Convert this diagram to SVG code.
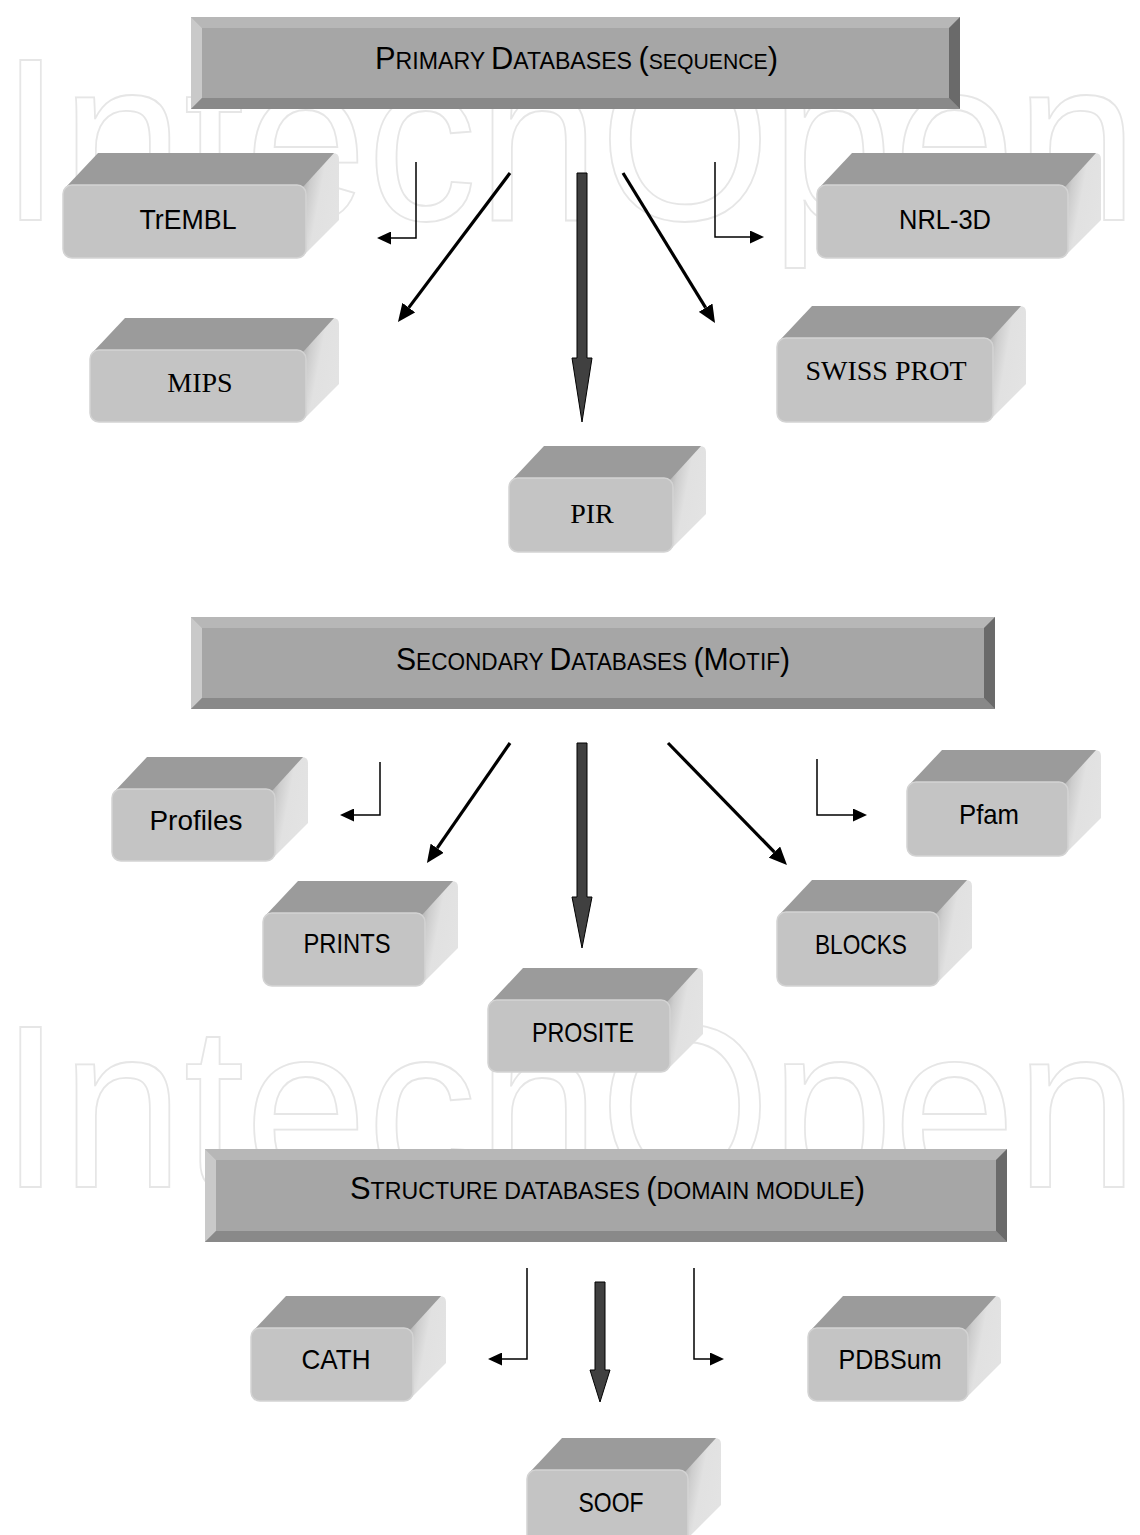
<svg xmlns="http://www.w3.org/2000/svg" width="1140" height="1535" viewBox="0 0 1140 1535">
<style>
.wm{font-family:"Liberation Sans",Arial,sans-serif;font-size:232px;fill:none;stroke:#e6e6e6;stroke-width:1.8}
.hface{fill:#a6a6a6}
.btop{fill:#b7b7b7}.bleft{fill:#c9c9c9}.bbot{fill:#898989}.bright{fill:#6a6a6a}
.htxt{font-family:"Liberation Sans",Arial,sans-serif;fill:#000}
.side{fill:url(#sideG)}
.topf{fill:#9b9b9b}
.front{fill:#c4c4c4;stroke:#d3d3d3;stroke-width:1.5}
.lbl{font-family:"Liberation Sans",Arial,sans-serif;font-size:28px;fill:#000;text-anchor:middle}
.lblt{font-family:"Liberation Serif","Times New Roman",serif;font-size:28px;fill:#000;text-anchor:middle}
.thin{fill:none;stroke:#000;stroke-width:1.5}
.diag{fill:none;stroke:#000;stroke-width:3.2}
.big{fill:#404040;stroke:#000;stroke-width:1}
</style>
<defs>
<linearGradient id="sideG" x1="0" y1="0" x2="1" y2="0.5">
<stop offset="0" stop-color="#9e9e9e"/>
<stop offset="0.3" stop-color="#cdcdcd"/>
<stop offset="0.55" stop-color="#e1e1e1"/>
<stop offset="1" stop-color="#e3e3e3"/>
</linearGradient>
<marker id="ah" viewBox="0 0 14 13" refX="0" refY="6.5" markerWidth="14" markerHeight="13" markerUnits="userSpaceOnUse" orient="auto"><path d="M0,0 L14,6.5 L0,13 Z" fill="#000"/></marker>
<marker id="ahb" viewBox="0 0 18 16" refX="0" refY="8" markerWidth="18" markerHeight="16" markerUnits="userSpaceOnUse" orient="auto"><path d="M0,0 L18,8 L0,16 Z" fill="#000"/></marker>
</defs>
<rect x="0" y="0" width="1140" height="1535" fill="#fff"/>
<g id="watermark">
<text class="wm" x="0" y="220" textLength="1138" lengthAdjust="spacingAndGlyphs">IntechOpen</text>
<text class="wm" x="0" y="1187" textLength="1138" lengthAdjust="spacingAndGlyphs">IntechOpen</text>
</g>

<g id="h-primary" transform="translate(191,17)">
<rect class="hface" x="0" y="0" width="769" height="92"/>
<polygon class="btop" points="0,0 769,0 758,11 11,11"/>
<polygon class="bleft" points="0,0 11,11 11,81 0,92"/>
<polygon class="bbot" points="0,92 11,81 758,81 769,92"/>
<polygon class="bright" points="769,0 769,92 758,81 758,11"/>
<text class="htxt" x="184" y="52" textLength="403" lengthAdjust="spacingAndGlyphs"><tspan font-size="32">P</tspan><tspan font-size="24">RIMARY </tspan><tspan font-size="32">D</tspan><tspan font-size="24">ATABASES </tspan><tspan font-size="32">(</tspan><tspan font-size="22">SEQUENCE</tspan><tspan font-size="32">)</tspan></text>
</g>

<g id="h-secondary" transform="translate(191,617)">
<rect class="hface" x="0" y="0" width="804" height="92"/>
<polygon class="btop" points="0,0 804,0 793,11 11,11"/>
<polygon class="bleft" points="0,0 11,11 11,81 0,92"/>
<polygon class="bbot" points="0,92 11,81 793,81 804,92"/>
<polygon class="bright" points="804,0 804,92 793,81 793,11"/>
<text class="htxt" x="205" y="53" textLength="394" lengthAdjust="spacingAndGlyphs"><tspan font-size="32">S</tspan><tspan font-size="24">ECONDARY </tspan><tspan font-size="32">D</tspan><tspan font-size="24">ATABASES </tspan><tspan font-size="32">(M</tspan><tspan font-size="24">OTIF</tspan><tspan font-size="32">)</tspan></text>
</g>

<g id="h-structure" transform="translate(205,1149)">
<rect class="hface" x="0" y="0" width="802" height="93"/>
<polygon class="btop" points="0,0 802,0 791,11 11,11"/>
<polygon class="bleft" points="0,0 11,11 11,82 0,93"/>
<polygon class="bbot" points="0,93 11,82 791,82 802,93"/>
<polygon class="bright" points="802,0 802,93 791,82 791,11"/>
<text class="htxt" x="145" y="50" textLength="515" lengthAdjust="spacingAndGlyphs"><tspan font-size="32">S</tspan><tspan font-size="24">TRUCTURE DATABASES </tspan><tspan font-size="32">(</tspan><tspan font-size="24">DOMAIN MODULE</tspan><tspan font-size="32">)</tspan></text>
</g>

<g id="n-trembl" transform="translate(63,185)">
<path class="side" d="M239,1 L270,-32 Q276,-32 276,-26 V35 L242,69 Z"/>
<path class="topf" d="M3,2 L35,-32 H271 L240,2 Z"/>
<rect class="front" x="0" y="0" width="243" height="73" rx="9"/>
<text class="lbl" x="125" y="44" textLength="97" lengthAdjust="spacingAndGlyphs">TrEMBL</text>
</g>
<g id="n-nrl3d" transform="translate(817,185)">
<path class="side" d="M247,1 L278,-32 Q284,-32 284,-26 V35 L250,69 Z"/>
<path class="topf" d="M3,2 L35,-32 H279 L248,2 Z"/>
<rect class="front" x="0" y="0" width="251" height="73" rx="9"/>
<text class="lbl" x="128" y="44" textLength="92" lengthAdjust="spacingAndGlyphs">NRL-3D</text>
</g>
<g id="n-mips" transform="translate(90,350)">
<path class="side" d="M212,1 L243,-32 Q249,-32 249,-26 V34 L215,68 Z"/>
<path class="topf" d="M3,2 L35,-32 H244 L213,2 Z"/>
<rect class="front" x="0" y="0" width="216" height="72" rx="9"/>
<text class="lblt" x="110" y="42">MIPS</text>
</g>
<g id="n-swissprot" transform="translate(777,338)">
<path class="side" d="M212,1 L243,-32 Q249,-32 249,-26 V46 L215,80 Z"/>
<path class="topf" d="M3,2 L35,-32 H244 L213,2 Z"/>
<rect class="front" x="0" y="0" width="216" height="84" rx="9"/>
<text class="lblt" x="109" y="42">SWISS PROT</text>
</g>
<g id="n-pir" transform="translate(509,478)">
<path class="side" d="M160,1 L191,-32 Q197,-32 197,-26 V36 L163,70 Z"/>
<path class="topf" d="M3,2 L35,-32 H192 L161,2 Z"/>
<rect class="front" x="0" y="0" width="164" height="74" rx="9"/>
<text class="lblt" x="83" y="45">PIR</text>
</g>

<g id="n-profiles" transform="translate(112,789)">
<path class="side" d="M159,1 L190,-32 Q196,-32 196,-26 V34 L162,68 Z"/>
<path class="topf" d="M3,2 L35,-32 H191 L160,2 Z"/>
<rect class="front" x="0" y="0" width="163" height="72" rx="9"/>
<text class="lbl" x="84" y="41" textLength="93" lengthAdjust="spacingAndGlyphs">Profiles</text>
</g>
<g id="n-prints" transform="translate(263,913)">
<path class="side" d="M158,1 L189,-32 Q195,-32 195,-26 V35 L161,69 Z"/>
<path class="topf" d="M3,2 L35,-32 H190 L159,2 Z"/>
<rect class="front" x="0" y="0" width="162" height="73" rx="9"/>
<text class="lbl" x="84" y="40" textLength="87" lengthAdjust="spacingAndGlyphs">PRINTS</text>
</g>
<g id="n-prosite" transform="translate(488,1000)">
<path class="side" d="M178,1 L209,-32 Q215,-32 215,-26 V34 L181,68 Z"/>
<path class="topf" d="M3,2 L35,-32 H210 L179,2 Z"/>
<rect class="front" x="0" y="0" width="182" height="72" rx="9"/>
<text class="lbl" x="95" y="42" textLength="102" lengthAdjust="spacingAndGlyphs">PROSITE</text>
</g>
<g id="n-pfam" transform="translate(907,782)">
<path class="side" d="M157,1 L188,-32 Q194,-32 194,-26 V36 L160,70 Z"/>
<path class="topf" d="M3,2 L35,-32 H189 L158,2 Z"/>
<rect class="front" x="0" y="0" width="161" height="74" rx="9"/>
<text class="lbl" x="82" y="42" textLength="60" lengthAdjust="spacingAndGlyphs">Pfam</text>
</g>
<g id="n-blocks" transform="translate(777,912)">
<path class="side" d="M158,1 L189,-32 Q195,-32 195,-26 V36 L161,70 Z"/>
<path class="topf" d="M3,2 L35,-32 H190 L159,2 Z"/>
<rect class="front" x="0" y="0" width="162" height="74" rx="9"/>
<text class="lbl" x="84" y="42" textLength="92" lengthAdjust="spacingAndGlyphs">BLOCKS</text>
</g>

<g id="n-cath" transform="translate(251,1328)">
<path class="side" d="M158,1 L189,-32 Q195,-32 195,-26 V35 L161,69 Z"/>
<path class="topf" d="M3,2 L35,-32 H190 L159,2 Z"/>
<rect class="front" x="0" y="0" width="162" height="73" rx="9"/>
<text class="lbl" x="85" y="41" textLength="69" lengthAdjust="spacingAndGlyphs">CATH</text>
</g>
<g id="n-pdbsum" transform="translate(808,1328)">
<path class="side" d="M156,1 L187,-32 Q193,-32 193,-26 V35 L159,69 Z"/>
<path class="topf" d="M3,2 L35,-32 H188 L157,2 Z"/>
<rect class="front" x="0" y="0" width="160" height="73" rx="9"/>
<text class="lbl" x="82" y="41" textLength="103" lengthAdjust="spacingAndGlyphs">PDBSum</text>
</g>
<g id="n-soof" transform="translate(527,1470)">
<path class="side" d="M157,1 L188,-32 Q194,-32 194,-26 V35 L160,69 Z"/>
<path class="topf" d="M3,2 L35,-32 H189 L158,2 Z"/>
<rect class="front" x="0" y="0" width="161" height="73" rx="9"/>
<text class="lbl" x="84" y="42" textLength="65" lengthAdjust="spacingAndGlyphs">SOOF</text>
</g>

<g id="connectors">
<path class="thin" d="M416,162 V238 H391" marker-end="url(#ah)"/>
<path class="thin" d="M715,162 V237 H750" marker-end="url(#ah)"/>
<path class="diag" d="M510,173 L408.8,307.6" marker-end="url(#ahb)"/>
<path class="diag" d="M623,173 L705.6,307.7" marker-end="url(#ahb)"/>
<polygon class="big" points="577,173 587,173 587,358 592,358 582,422 572,358 577,358"/>

<path class="thin" d="M380,762 V815 H354" marker-end="url(#ah)"/>
<path class="thin" d="M817,759 V815 H853" marker-end="url(#ah)"/>
<path class="diag" d="M510,743 L437.2,848.2" marker-end="url(#ahb)"/>
<path class="diag" d="M668,743 L774.4,852.1" marker-end="url(#ahb)"/>
<polygon class="big" points="577,743 587,743 587,897 592,897 582,948 572,897 577,897"/>

<path class="thin" d="M527,1268 V1359 H502" marker-end="url(#ah)"/>
<path class="thin" d="M694,1268 V1359 H710" marker-end="url(#ah)"/>
<polygon class="big" points="595,1282 605,1282 605,1370 610,1370 600,1402 590,1370 595,1370"/>
</g>
</svg>
